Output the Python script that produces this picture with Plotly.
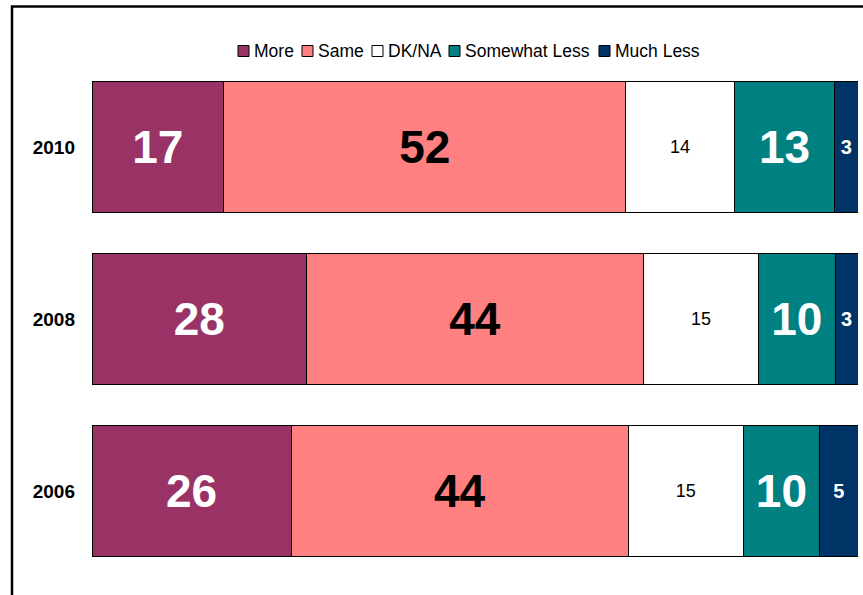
import plotly.graph_objects as go

years = ["2010", "2008", "2006"]
series_names = ["More", "Same", "DK/NA", "Somewhat Less", "Much Less"]
more = [17, 28, 26]
same = [52, 44, 44]
dkna = [14, 15, 15]
somewhat_less = [13, 10, 10]
much_less = [3, 3, 5]

values = [more, same, dkna, somewhat_less, much_less]
colors = ["#993366", "#FF8080", "#FFFFFF", "#008080", "#003366"]
text_colors = ["white", "black", "black", "white", "white"]
text_sizes = [46, 46, 18, 46, 20]
text_weights = ["bold", "bold", "normal", "bold", "bold"]

FONT = "Liberation Sans, Arial, Helvetica, sans-serif"

fig = go.Figure()
for name, vals, col, tc, ts, tw in zip(series_names, values, colors, text_colors, text_sizes, text_weights):
    fig.add_trace(go.Bar(
        name=name,
        y=years,
        x=vals,
        orientation="h",
        marker=dict(color=col, line=dict(color="black", width=1)),
        text=[str(v) for v in vals],
        texttemplate="%{text}",
        textposition="inside",
        insidetextanchor="middle",
        constraintext="none",
        textfont=dict(color=tc, size=ts, weight=tw, family=FONT),
        hoverinfo="skip",
        showlegend=False,
    ))

W, H = 863, 595
ml, mr, mt, mb = 92, 5, 61, 18
pw, ph = W - ml - mr, H - mt - mb


def px_x(px):
    return (px - ml) / pw


def px_y(py):
    return (H - mb - py) / ph


fig.update_layout(
    width=W, height=H,
    margin=dict(l=ml, r=mr, t=mt, b=mb, pad=0),
    barmode="stack",
    barnorm="percent",
    bargap=0.233,
    plot_bgcolor="white",
    paper_bgcolor="white",
    font=dict(family=FONT, color="black"),
    showlegend=False,
    xaxis=dict(range=[0, 100], visible=False, fixedrange=True),
    yaxis=dict(
        categoryorder="array", categoryarray=years, autorange="reversed",
        showline=False, showgrid=False, zeroline=False,
        ticks="", ticklabelstandoff=16, fixedrange=True,
        tickfont=dict(size=19, weight="bold", family=FONT, color="black"),
    ),
)

# custom compact legend (square swatch + label)
legend_left_px = [238, 302, 372, 449, 599]
legend_cy = 51
for name, col, lx in zip(series_names, colors, legend_left_px):
    fig.add_shape(type="rect", xref="paper", yref="paper",
                  x0=px_x(lx), x1=px_x(lx + 11),
                  y0=px_y(legend_cy + 5.5), y1=px_y(legend_cy - 5.5),
                  fillcolor=col, line=dict(color="black", width=1))
    fig.add_annotation(xref="paper", yref="paper",
                       x=px_x(lx + 14), y=px_y(legend_cy),
                       xanchor="left", yanchor="middle",
                       text=name, showarrow=False,
                       font=dict(size=17.5, family=FONT, color="black"))

# outer chart border (left and top edges visible; right/bottom run off the page)
fig.add_shape(type="rect", xref="paper", yref="paper",
              x0=px_x(12), x1=1.3,
              y0=-0.3, y1=px_y(6.5),
              line=dict(color="black", width=2.5),
              fillcolor="rgba(0,0,0,0)", layer="above")

fig.write_html("out.html", config={"displayModeBar": False},
               post_script="document.body.style.margin='0';document.body.style.padding='0';")
